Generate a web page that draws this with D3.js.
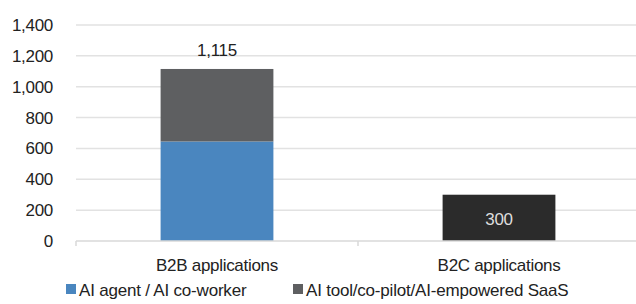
<!DOCTYPE html>
<html>
<head>
<meta charset="utf-8">
<script src="https://cdn.jsdelivr.net/npm/d3@7"></script>
<style>
  body { margin: 0; background: #fff; }
  svg { display: block; font-family: "Liberation Sans", Arial, sans-serif; }
  .y.axis text { font-size: 17px; fill: #222; letter-spacing: -0.3px; }
  .x.axis text { font-size: 17px; fill: #222; letter-spacing: -0.3px; }
  .legend text { font-size: 17px; fill: #222; letter-spacing: -0.2px; }
</style>
</head>
<body>
<div id="chart"></div>
<script>
var categories = ["B2B applications", "B2C applications"];
var seriesNames = ["AI agent / AI co-worker", "AI tool/co-pilot/AI-empowered SaaS"];
var agentValues = [645, 0];
var toolValues = [470, 300];
var totalLabels = ["1,115", "300"];
var yTicks = [0, 200, 400, 600, 800, 1000, 1200, 1400];

var width = 636, height = 304;
var margins = { top: 25, right: -4, bottom: 63, left: 76 };
var chartWidth = width - margins.left - margins.right;
var chartHeight = height - margins.top - margins.bottom;

var svg = d3.select("#chart").append("svg")
  .attr("width", width)
  .attr("height", height);

var chart = svg.append("g")
  .attr("transform", `translate(${margins.left},${margins.top})`);

var xScale = d3.scaleBand().domain(categories).range([0, chartWidth]).paddingInner(0.6).paddingOuter(0.3);
var yScale = d3.scaleLinear().domain([0, 1400]).range([chartHeight, 0]);

// grid
chart.append("g").attr("class", "grid")
  .selectAll("line")
  .data(yTicks.slice(1))
  .enter().append("line")
  .attr("x1", 0).attr("x2", chartWidth)
  .attr("y1", d => yScale(d)).attr("y2", d => yScale(d))
  .attr("stroke", "#e2e2e2").attr("stroke-width", 1.5);

// y labels
chart.append("g").attr("class", "y axis")
  .selectAll("text")
  .data(yTicks)
  .enter().append("text")
  .attr("x", -23)
  .attr("y", d => yScale(d))
  .attr("dy", "0.35em")
  .attr("text-anchor", "end")
  .text(d => d3.format(",")(d));

// bars
var colors = ["#4a86bf", "#5e5f61"];
var stacked = categories.map((c, i) => ({ cat: c, agent: agentValues[i], tool: toolValues[i] }));

stacked.forEach(function(d, i) {
  var x = xScale(d.cat);
  chart.append("rect")
    .attr("x", x).attr("width", xScale.bandwidth())
    .attr("y", yScale(d.agent)).attr("height", chartHeight - yScale(d.agent))
    .attr("fill", colors[0]);
  chart.append("rect")
    .attr("x", x).attr("width", xScale.bandwidth())
    .attr("y", yScale(d.agent + d.tool)).attr("height", yScale(d.agent) - yScale(d.agent + d.tool))
    .attr("fill", i == 0 ? colors[1] : "#2b2b2b");
});

// value labels
chart.append("text")
  .attr("x", xScale(categories[0]) + xScale.bandwidth() / 2)
  .attr("y", yScale(agentValues[0] + toolValues[0]) - 13)
  .attr("text-anchor", "middle").attr("font-size", 17).attr("fill", "#222")
  .attr("letter-spacing", "-0.3px")
  .text(totalLabels[0]);
chart.append("text")
  .attr("x", xScale(categories[1]) + xScale.bandwidth() / 2)
  .attr("y", yScale(toolValues[1] / 2) + 1)
  .attr("dy", "0.35em")
  .attr("text-anchor", "middle").attr("font-size", 17).attr("fill", "#ddd")
  .attr("letter-spacing", "-0.3px")
  .text(totalLabels[1]);

// x axis
var xAxis = chart.append("g").attr("class", "x axis")
  .attr("transform", `translate(0,${chartHeight})`);
xAxis.append("line")
  .attr("x1", 0).attr("x2", chartWidth)
  .attr("stroke", "#d8d8d8").attr("stroke-width", 1.5);
xAxis.selectAll(".tick")
  .data([0, xScale.step()])
  .enter().append("line")
  .attr("x1", d => d).attr("x2", d => d)
  .attr("y1", 0).attr("y2", 5)
  .attr("stroke", "#d8d8d8").attr("stroke-width", 1.5);
xAxis.selectAll("text")
  .data(categories)
  .enter().append("text")
  .attr("x", d => xScale(d) + xScale.bandwidth() / 2)
  .attr("y", 24)
  .attr("dy", "0.35em")
  .attr("text-anchor", "middle")
  .text(d => d);

// legend
var legend = svg.append("g").attr("class", "legend");
var legendX = [66, 293];
seriesNames.forEach(function(name, i) {
  legend.append("rect")
    .attr("x", legendX[i]).attr("y", 284)
    .attr("width", 10).attr("height", 10)
    .attr("fill", colors[i]);
  legend.append("text")
    .attr("x", legendX[i] + 13).attr("y", 290)
    .attr("dy", "0.35em")
    .text(name);
});
</script>
</body>
</html>
